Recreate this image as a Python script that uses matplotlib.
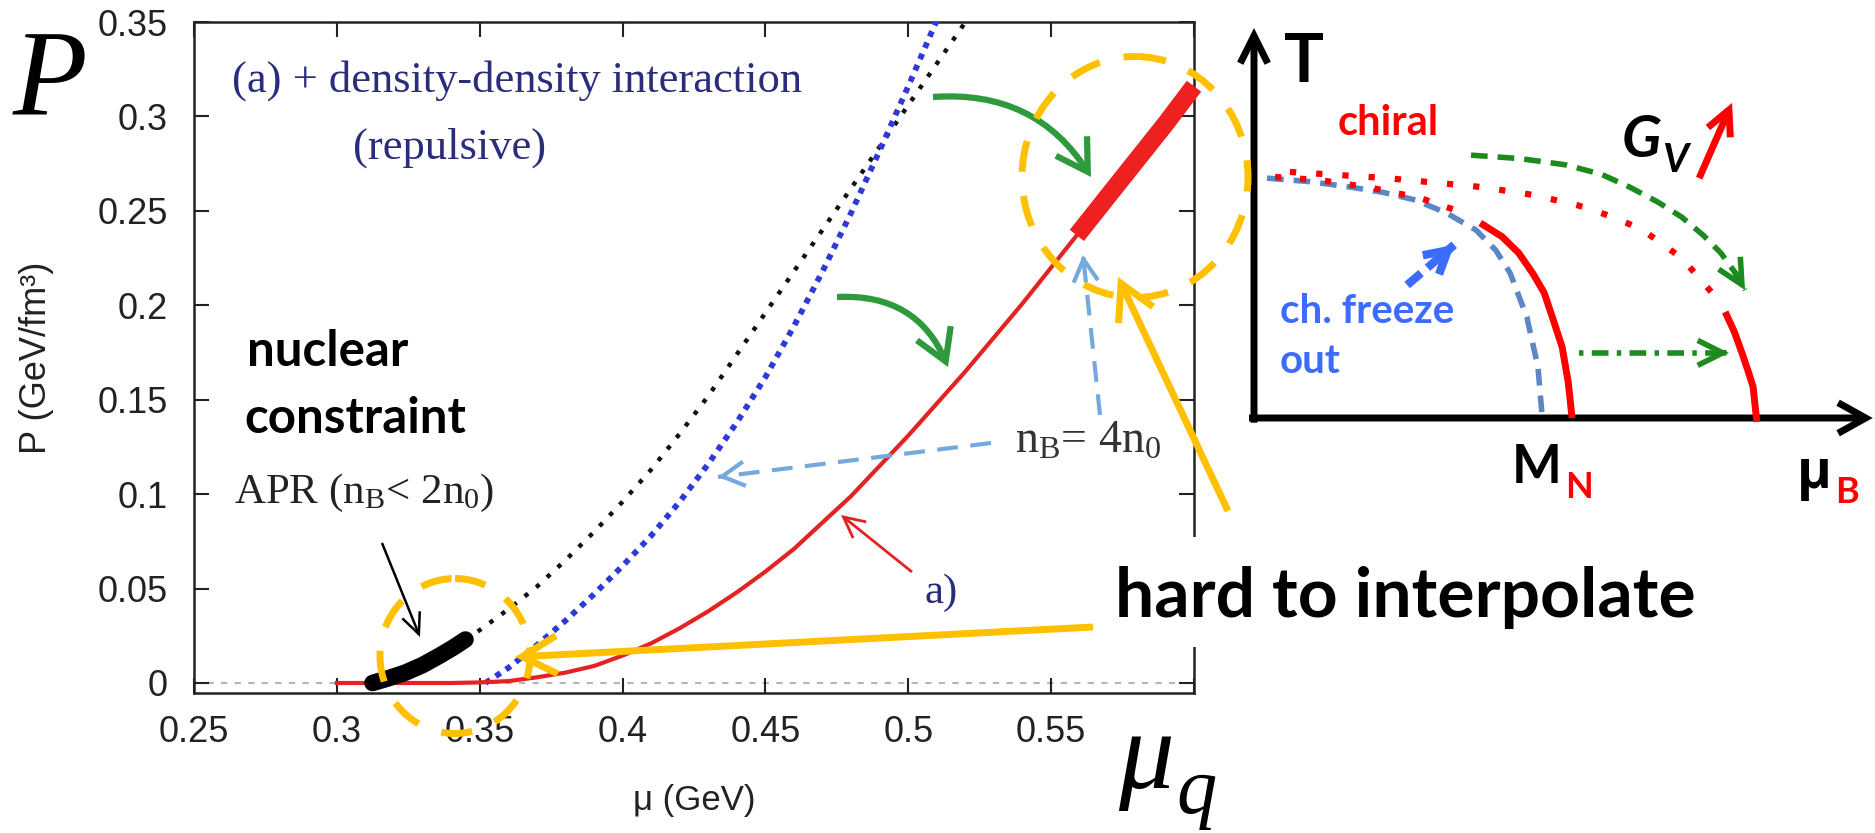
import matplotlib
matplotlib.use('Agg')
import matplotlib.pyplot as plt
from matplotlib.patches import Ellipse, FancyArrowPatch, Rectangle

# ---------------- data (main EoS panel) ----------------
mu_red = [0.30, 0.31, 0.32, 0.33, 0.34, 0.35, 0.36, 0.37, 0.38, 0.39, 0.40, 0.41, 0.42, 0.43,
          0.44, 0.45, 0.46, 0.47, 0.48, 0.49, 0.50, 0.51, 0.52, 0.53, 0.54, 0.55, 0.56, 0.57,
          0.58, 0.59, 0.60]
P_red = [0.0, 0.0, 0.0, 0.0, 0.0, 0.0003, 0.001, 0.003, 0.0055, 0.009, 0.0145, 0.021, 0.029,
         0.038, 0.048, 0.059, 0.071, 0.085, 0.099, 0.115, 0.131, 0.148, 0.165, 0.183, 0.201,
         0.220, 0.239, 0.258, 0.277, 0.296, 0.316]
mu_red_thick = [0.559, 0.57, 0.58, 0.59, 0.60]
P_red_thick = [0.237, 0.258, 0.277, 0.296, 0.316]
mu_blue = [0.352, 0.36, 0.37, 0.38, 0.39, 0.40, 0.41, 0.42, 0.43, 0.44, 0.45, 0.46, 0.47,
           0.48, 0.49, 0.50, 0.51]
P_blue = [0.0, 0.008, 0.020, 0.033, 0.047, 0.062, 0.078, 0.096, 0.116, 0.138, 0.162, 0.189,
          0.218, 0.249, 0.282, 0.316, 0.351]
mu_black = [0.345, 0.35, 0.36, 0.37, 0.38, 0.39, 0.40, 0.41, 0.42, 0.43, 0.44, 0.45, 0.46,
            0.47, 0.48, 0.49, 0.50, 0.51, 0.52]
P_black = [0.023, 0.028, 0.039, 0.051, 0.065, 0.080, 0.096, 0.113, 0.132, 0.152, 0.174, 0.196,
           0.218, 0.240, 0.262, 0.284, 0.306, 0.328, 0.350]
mu_apr = [0.3125, 0.318, 0.324, 0.330, 0.336, 0.341, 0.345]
P_apr = [0.0, 0.0025, 0.0055, 0.0095, 0.0145, 0.019, 0.023]
xticks = [0.25, 0.30, 0.35, 0.40, 0.45, 0.50, 0.55, 0.60]
xticklabels = ['0.25', '0.3', '0.35', '0.4', '0.45', '0.5', '0.55', '']
yticks = [0, 0.05, 0.10, 0.15, 0.20, 0.25, 0.30, 0.35]
yticklabels = ['0', '0.05', '0.1', '0.15', '0.2', '0.25', '0.3', '0.35']

# ---------------- data (schematic phase diagram, normalised mu_B, T) ----------------
fo_mu = [0.021, 0.09, 0.156, 0.21, 0.260, 0.31, 0.358, 0.39, 0.413, 0.440, 0.458, 0.465]
fo_T = [0.615, 0.606, 0.592, 0.578, 0.559, 0.526, 0.482, 0.43, 0.372, 0.259, 0.131, 0.0]
chi1_dot_mu = [0.034, 0.106, 0.190, 0.268, 0.345]
chi1_dot_T = [0.618, 0.610, 0.590, 0.564, 0.522]
chi1_mu = [0.365, 0.40, 0.427, 0.450, 0.468, 0.483, 0.497, 0.507, 0.513]
chi1_T = [0.500, 0.465, 0.423, 0.37, 0.321, 0.25, 0.182, 0.09, 0.0]
chi2_dot_mu = [0.058, 0.215, 0.368, 0.450, 0.521, 0.580, 0.627, 0.690, 0.742]
chi2_dot_T = [0.631, 0.615, 0.592, 0.572, 0.546, 0.515, 0.482, 0.410, 0.315]
chi2_mu = [0.760, 0.775, 0.787, 0.797, 0.805, 0.811]
chi2_T = [0.272, 0.22, 0.167, 0.12, 0.08, -0.01]
gv_mu = [0.350, 0.430, 0.503, 0.560, 0.606, 0.650, 0.690, 0.725, 0.753, 0.775, 0.792]
gv_T = [0.674, 0.665, 0.649, 0.625, 0.592, 0.555, 0.515, 0.468, 0.423, 0.375, 0.328]

W, H = 1875, 833
plt.rcParams['font.family'] = ['Liberation Sans', 'DejaVu Sans']
plt.rcParams['mathtext.fontset'] = 'custom'
plt.rcParams['mathtext.rm'] = 'Liberation Serif'
plt.rcParams['mathtext.it'] = 'Liberation Serif:italic'
plt.rcParams['mathtext.bf'] = 'Liberation Serif:bold'

fig = plt.figure(figsize=(W / 100, H / 100), dpi=100)

# ---------------- main axes ----------------
ax = fig.add_axes([194 / W, 1 - 693 / H, 1000 / W, 671 / H])
ax.set_xlim(0.25, 0.60)
ax.set_ylim(-0.0053, 0.35)
ax.axhline(0, color='#b5b5b5', lw=1.5, ls=(0, (3, 3.5)), zorder=1)
ax.plot(mu_black, P_black, color='#111111', lw=3.2, ls=(0, (1, 2.3)), zorder=2)
ax.plot(mu_blue, P_blue, color='#2d3ad8', lw=4.2, ls=(0, (1, 1.1)), zorder=3)
ax.plot(mu_red, P_red, color='#e32222', lw=3, zorder=4)
ax.plot(mu_red_thick, P_red_thick, color='#ee2020', lw=13, solid_capstyle='butt',
        clip_on=False, zorder=5)
ax.plot(mu_apr, P_apr, color='black', lw=12, solid_capstyle='round', zorder=6)

ax.set_xticks(xticks)
ax.set_xticklabels(xticklabels)
ax.set_yticks(yticks)
ax.set_yticklabels(yticklabels)
ax.tick_params(direction='in', length=11, width=1.5, top=True, right=True,
               labelsize=26, colors='#222222')
ax.tick_params(axis='y', pad=19)
ax.tick_params(axis='x', pad=16)
for s in ax.spines.values():
    s.set_linewidth(1.8)
    s.set_color('#222222')
ax.set_xlabel('μ (GeV)', fontsize=25, color='#222222')
ax.xaxis.set_label_coords(0.5, -0.135)
ax.set_ylabel('P (GeV/fm³)', fontsize=26, color='#222222')
ax.yaxis.set_label_coords(-0.14, 0.5)

# ---------------- schematic phase diagram ----------------
ph = fig.add_axes([1254 / W, 1 - 418 / H, 620 / W, 390 / H], zorder=4)
ph.set_xlim(0, 1)
ph.set_ylim(0, 1)
ph.axis('off')
ph.patch.set_alpha(0)


def parrow(axh, p0, p1, color, lw, hl, hw, ms, rad=0.0, ls='-'):
    a = FancyArrowPatch(p0, p1, arrowstyle=f'->,head_length={hl},head_width={hw}',
                        connectionstyle=f'arc3,rad={rad}', mutation_scale=ms, color=color,
                        lw=lw, linestyle=ls, shrinkA=0, shrinkB=0, clip_on=False,
                        joinstyle='miter', capstyle='butt')
    axh.add_patch(a)
    return a


def dashed_arrow(axh, p0, p1, color, lw, dash, hl, hw, ms):
    axh.plot([p0[0], p1[0]], [p0[1], p1[1]], color=color, lw=lw, ls=dash,
             clip_on=False, solid_capstyle='butt')
    q0 = (p1[0] - 0.02 * (p1[0] - p0[0]), p1[1] - 0.02 * (p1[1] - p0[1]))
    parrow(axh, q0, p1, color, lw, hl, hw, ms)


# axes of phase diagram
parrow(ph, (0, -0.012), (0, 1.0), 'black', 5, 0.9, 0.45, 22)
parrow(ph, (-0.008, 0), (0.998, 0), 'black', 5, 0.9, 0.5, 22)

ph.plot(fo_mu, fo_T, color='#5b87c5', lw=4, ls=(0, (3, 1.8)), clip_on=False)
ph.plot(chi1_dot_mu, chi1_dot_T, color='red', lw=4.5, ls=(0, (1, 3.0)), clip_on=False)
ph.plot(chi1_mu, chi1_T, color='red', lw=5, clip_on=False, solid_capstyle='butt')
ph.plot(chi2_dot_mu, chi2_dot_T, color='red', lw=4.5, ls=(0, (1, 3.2)), clip_on=False)
ph.plot(chi2_mu, chi2_T, color='red', lw=5, clip_on=False, solid_capstyle='butt')
ph.plot(gv_mu, gv_T, color='#1c8a1c', lw=4, ls=(0, (3, 1.8)), clip_on=False)
parrow(ph, (gv_mu[-2], gv_T[-2]), (gv_mu[-1], gv_T[-1]), '#1c8a1c', 4, 0.9, 0.45, 20)
dashed_arrow(ph, (0.524, 0.167), (0.766, 0.167), '#1c8a1c', 4, (0, (0.8, 1.5, 3, 1.5)),
             0.9, 0.45, 20)
dashed_arrow(ph, (0.247, 0.341), (0.323, 0.444), '#3b6cff', 6, (0, (2.2, 1.0)), 0.8, 0.45, 20)
parrow(ph, (0.718, 0.615), (0.771, 0.808), 'red', 5, 0.8, 0.4, 22)

# ---------------- overlay (annotations, in pixel coordinates) ----------------
ov = fig.add_axes([0, 0, 1, 1], zorder=5)
ov.set_xlim(0, W)
ov.set_ylim(H, 0)
ov.axis('off')
ov.patch.set_alpha(0)

serif = 'Liberation Serif'
bold_sans = ['Lato', 'Open Sans', 'DejaVu Sans']
navy = '#2a2c7c'

ov.text(232, 92, '(a) + density-density interaction', fontfamily=serif, fontsize=32,
        color=navy, va='baseline')
ov.text(353, 159, '(repulsive)', fontfamily=serif, fontsize=32, color=navy, va='baseline')
ov.text(1015, 453, r'n$_\mathrm{B}$= 4n$_0$', fontfamily=serif, fontsize=33,
        color='#333333', va='baseline')
ov.text(234, 503, r'APR (n$_\mathrm{B}$< 2n$_0$)', fontfamily=serif, fontsize=31,
        color='#222222', va='baseline')
ov.text(925, 603, 'a)', fontfamily=serif, fontsize=31, color=navy, va='baseline')
ov.text(247, 366, 'nuclear', fontfamily=bold_sans, fontweight='bold', fontsize=35.5,
        va='baseline')
ov.text(244, 433, 'constraint', fontfamily=bold_sans, fontweight='bold', fontsize=35.5,
        va='baseline')

# big axis symbols
ov.text(13, 115, 'P', fontfamily=serif, style='italic', fontsize=88, va='baseline')
ov.text(1118, 788, 'μ', fontfamily=serif, style='italic', fontsize=80, va='baseline')
ov.text(1176, 813, 'q', fontfamily=serif, style='italic', fontsize=58, va='baseline')

# arrows inside the EoS panel
parrow(ov, (912, 572), (841, 515), '#e32222', 2, 1.0, 0.5, 15)
parrow(ov, (382, 543), (420, 637), 'black', 1.8, 1.0, 0.45, 15)
dashed_arrow(ov, (991, 443), (718, 477), '#74a9de', 3, (0, (5, 3)), 1.0, 0.55, 16)
dashed_arrow(ov, (1100, 415), (1083, 255), '#74a9de', 3, (0, (5, 3)), 1.0, 0.55, 16)
parrow(ov, (933, 97), (1091, 177), '#2f9a3c', 4.5, 1.0, 0.6, 22, rad=-0.3)
parrow(ov, (837, 297), (948, 367), '#2f9a3c', 4.5, 1.0, 0.6, 22, rad=-0.35)

# yellow highlights
yel = '#ffc000'
ov.add_patch(Ellipse((1135, 177), 226, 241, fill=False, ec=yel, lw=5, ls=(0, (4.5, 3.5))))
ov.add_patch(Ellipse((455, 656), 150, 155, fill=False, ec=yel, lw=5, ls=(0, (4.5, 3.5))))
ov.add_patch(Rectangle((1097, 537), 640, 110, fc='white', ec='none', zorder=2.5))
parrow(ov, (1093, 627), (515, 657), yel, 5, 1.0, 0.55, 25)
parrow(ov, (1228, 511), (1118, 277), yel, 5, 1.0, 0.55, 25)
ov.text(1115, 617, 'hard to interpolate', fontfamily=bold_sans, fontweight='bold',
        fontsize=50, va='baseline', zorder=3)

# phase diagram labels
ov.text(1284, 82, 'T', fontfamily=bold_sans, fontweight='bold', fontsize=48, va='baseline')
ov.text(1338, 135, 'chiral', fontfamily=bold_sans, fontweight='bold', fontsize=30,
        color='red', va='baseline')
ov.text(1622, 157, 'G', fontfamily=bold_sans, fontweight='bold', style='italic',
        fontsize=42, va='baseline')
ov.text(1662, 172, 'V', fontfamily=bold_sans, fontweight='bold', style='italic',
        fontsize=29, va='baseline')
blue_txt = '#3b6cff'
ov.text(1280, 323, 'ch. freeze', fontfamily=bold_sans, fontweight='bold', fontsize=29,
        color=blue_txt, va='baseline')
ov.text(1280, 373, 'out', fontfamily=bold_sans, fontweight='bold', fontsize=29,
        color=blue_txt, va='baseline')
ov.text(1512, 483, 'M', fontfamily=bold_sans, fontweight='bold', fontsize=38, va='baseline')
ov.text(1565, 498, 'N', fontfamily=bold_sans, fontweight='bold', fontsize=26, color='red',
        va='baseline')
ov.text(1797, 488, 'μ', fontfamily=['Open Sans', 'DejaVu Sans'], fontweight='bold',
        fontsize=38, va='baseline')
ov.text(1835, 503, 'B', fontfamily=bold_sans, fontweight='bold', fontsize=26, color='red',
        va='baseline')

fig.savefig('out.png', dpi=100, facecolor='white')
